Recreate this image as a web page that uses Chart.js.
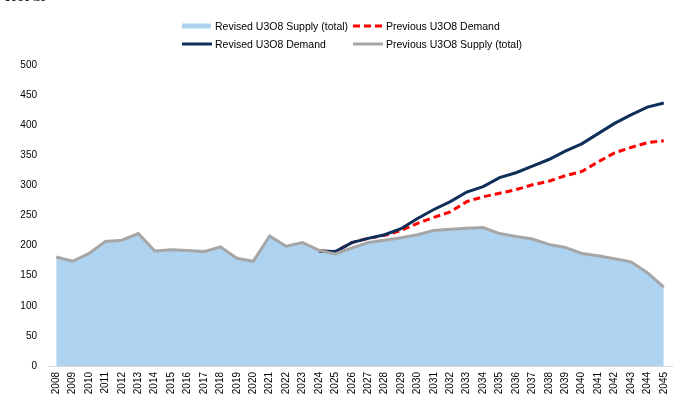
<!DOCTYPE html>
<html lang="en">
<head>
    <meta charset="UTF-8">
    <title>U3O8 Supply and Demand</title>
    <script src="https://cdn.jsdelivr.net/npm/chart.js@4/dist/chart.umd.min.js"></script>
    <style>
        body { margin: 0; background: #fff; font-family: "Liberation Sans", Arial, sans-serif; }
        .wrap { position: relative; width: 700px; height: 394px; overflow: hidden; }
        canvas { position: absolute; left: 0; top: 0; }
        .unit { position: absolute; left: 4px; top: -8px; font-size: 10px; line-height: 12px; color: #000; }
        .legend { position: absolute; left: 0; top: 0; width: 700px; height: 60px; font-size: 10.5px; color: #000; }
        .item { position: absolute; display: flex; align-items: center; white-space: nowrap; height: 14px; }
        .item svg { margin-right: 3px; }
    </style>
</head>
<body>
    <div class="wrap">
        <canvas id="chart" width="700" height="394"></canvas>
        <div class="unit">U3O8 lbs</div>
        <div class="legend">
            <div class="item" style="left:182px; top:19px;">
                <svg width="30" height="6"><rect x="0" y="0.5" width="29" height="5" fill="#AED3F0"/></svg>Revised U3O8 Supply (total)
            </div>
            <div class="item" style="left:353px; top:19px;">
                <svg width="30" height="6"><line x1="0" y1="3" x2="29" y2="3" stroke="#FF0000" stroke-width="3" stroke-dasharray="7,4"/></svg>Previous U3O8 Demand
            </div>
            <div class="item" style="left:182px; top:37px;">
                <svg width="30" height="6"><line x1="0" y1="3" x2="30" y2="3" stroke="#0E2F5A" stroke-width="3"/></svg>Revised U3O8 Demand
            </div>
            <div class="item" style="left:353px; top:37px;">
                <svg width="30" height="6"><line x1="0" y1="3" x2="30" y2="3" stroke="#A6A6A6" stroke-width="3"/></svg>Previous U3O8 Supply (total)
            </div>
        </div>
    </div>

    <script>
        const years = ['2008','2009','2010','2011','2012','2013','2014','2015','2016','2017',
                       '2018','2019','2020','2021','2022','2023','2024','2025','2026','2027',
                       '2028','2029','2030','2031','2032','2033','2034','2035','2036','2037',
                       '2038','2039','2040','2041','2042','2043','2044','2045'];

        // supply (mlbs) - revised area and previous line share the same path
        const revisedSupply = [181, 174, 187, 207, 209, 220, 191, 193, 192, 190,
                               198, 179, 174, 216, 199, 205, 192, 186, 196, 205,
                               209, 213, 218, 225, 227, 229, 230, 220, 215, 211,
                               202, 197, 187, 183, 178, 173, 155, 131];
        const previousSupply = [181, 174, 187, 207, 209, 220, 191, 193, 192, 190,
                                198, 179, 174, 216, 199, 205, 192, 186, 196, 205,
                                209, 213, 218, 225, 227, 229, 230, 220, 215, 211,
                                202, 197, 187, 183, 178, 173, 155, 131];

        // demand starts in 2024
        const revisedDemand = [null, null, null, null, null, null, null, null, null, null,
                               null, null, null, null, null, null, 191, 190, 205, 212,
                               218, 228, 245, 260, 273, 289, 298, 313, 321, 332,
                               343, 357, 369, 386, 403, 417, 430, 437];
        const previousDemand = [null, null, null, null, null, null, null, null, null, null,
                                null, null, null, null, null, null, 191, 190, 205, 212,
                                217, 225, 237, 247, 256, 273, 281, 287, 293, 301,
                                307, 316, 323, 339, 354, 363, 371, 374];

        const yTicks = [0, 50, 100, 150, 200, 250, 300, 350, 400, 450, 500];

        const ctx = document.getElementById('chart').getContext('2d');

        new Chart(ctx, {
            type: 'line',
            data: {
                labels: years,
                datasets: [
                    {
                        label: 'Previous U3O8 Supply (total)',
                        data: previousSupply,
                        borderColor: '#A6A6A6',
                        borderWidth: 3,
                        fill: false,
                        order: 1
                    },
                    {
                        label: 'Revised U3O8 Demand',
                        data: revisedDemand,
                        borderColor: '#0E2F5A',
                        borderWidth: 3,
                        fill: false,
                        order: 2
                    },
                    {
                        label: 'Previous U3O8 Demand',
                        data: previousDemand,
                        borderColor: '#FF0000',
                        borderWidth: 3,
                        borderDash: [7, 4],
                        fill: false,
                        order: 3
                    },
                    {
                        label: 'Revised U3O8 Supply (total)',
                        data: revisedSupply,
                        borderWidth: 0,
                        borderColor: 'rgba(0,0,0,0)',
                        backgroundColor: '#AED3F0',
                        fill: 'origin',
                        order: 4
                    }
                ]
            },
            options: {
                responsive: false,
                animation: false,
                elements: {
                    point: { radius: 0, hoverRadius: 0 },
                    line: { tension: 0 }
                },
                layout: {
                    padding: { top: 65, right: 28, left: 0, bottom: 0 }
                },
                plugins: {
                    legend: { display: false },
                    tooltip: { enabled: false }
                },
                scales: {
                    x: {
                        offset: true,
                        grid: { display: false, drawTicks: false },
                        border: { display: true, color: '#D9D9D9', width: 1 },
                        ticks: {
                            autoSkip: false,
                            minRotation: 90,
                            maxRotation: 90,
                            padding: 6,
                            color: '#000',
                            font: { family: 'Liberation Sans', size: 10 }
                        },
                        afterFit: (scale) => { scale.height = 28; }
                    },
                    y: {
                        min: 0,
                        max: 500,
                        afterBuildTicks: (scale) => {
                            scale.ticks = yTicks.map(v => ({ value: v }));
                        },
                        grid: { display: false, drawTicks: false },
                        border: { display: false },
                        ticks: {
                            padding: 11,
                            color: '#000',
                            font: { family: 'Liberation Sans', size: 10 }
                        },
                        afterFit: (scale) => { scale.width = 48; }
                    }
                }
            }
        });
    </script>
</body>
</html>
